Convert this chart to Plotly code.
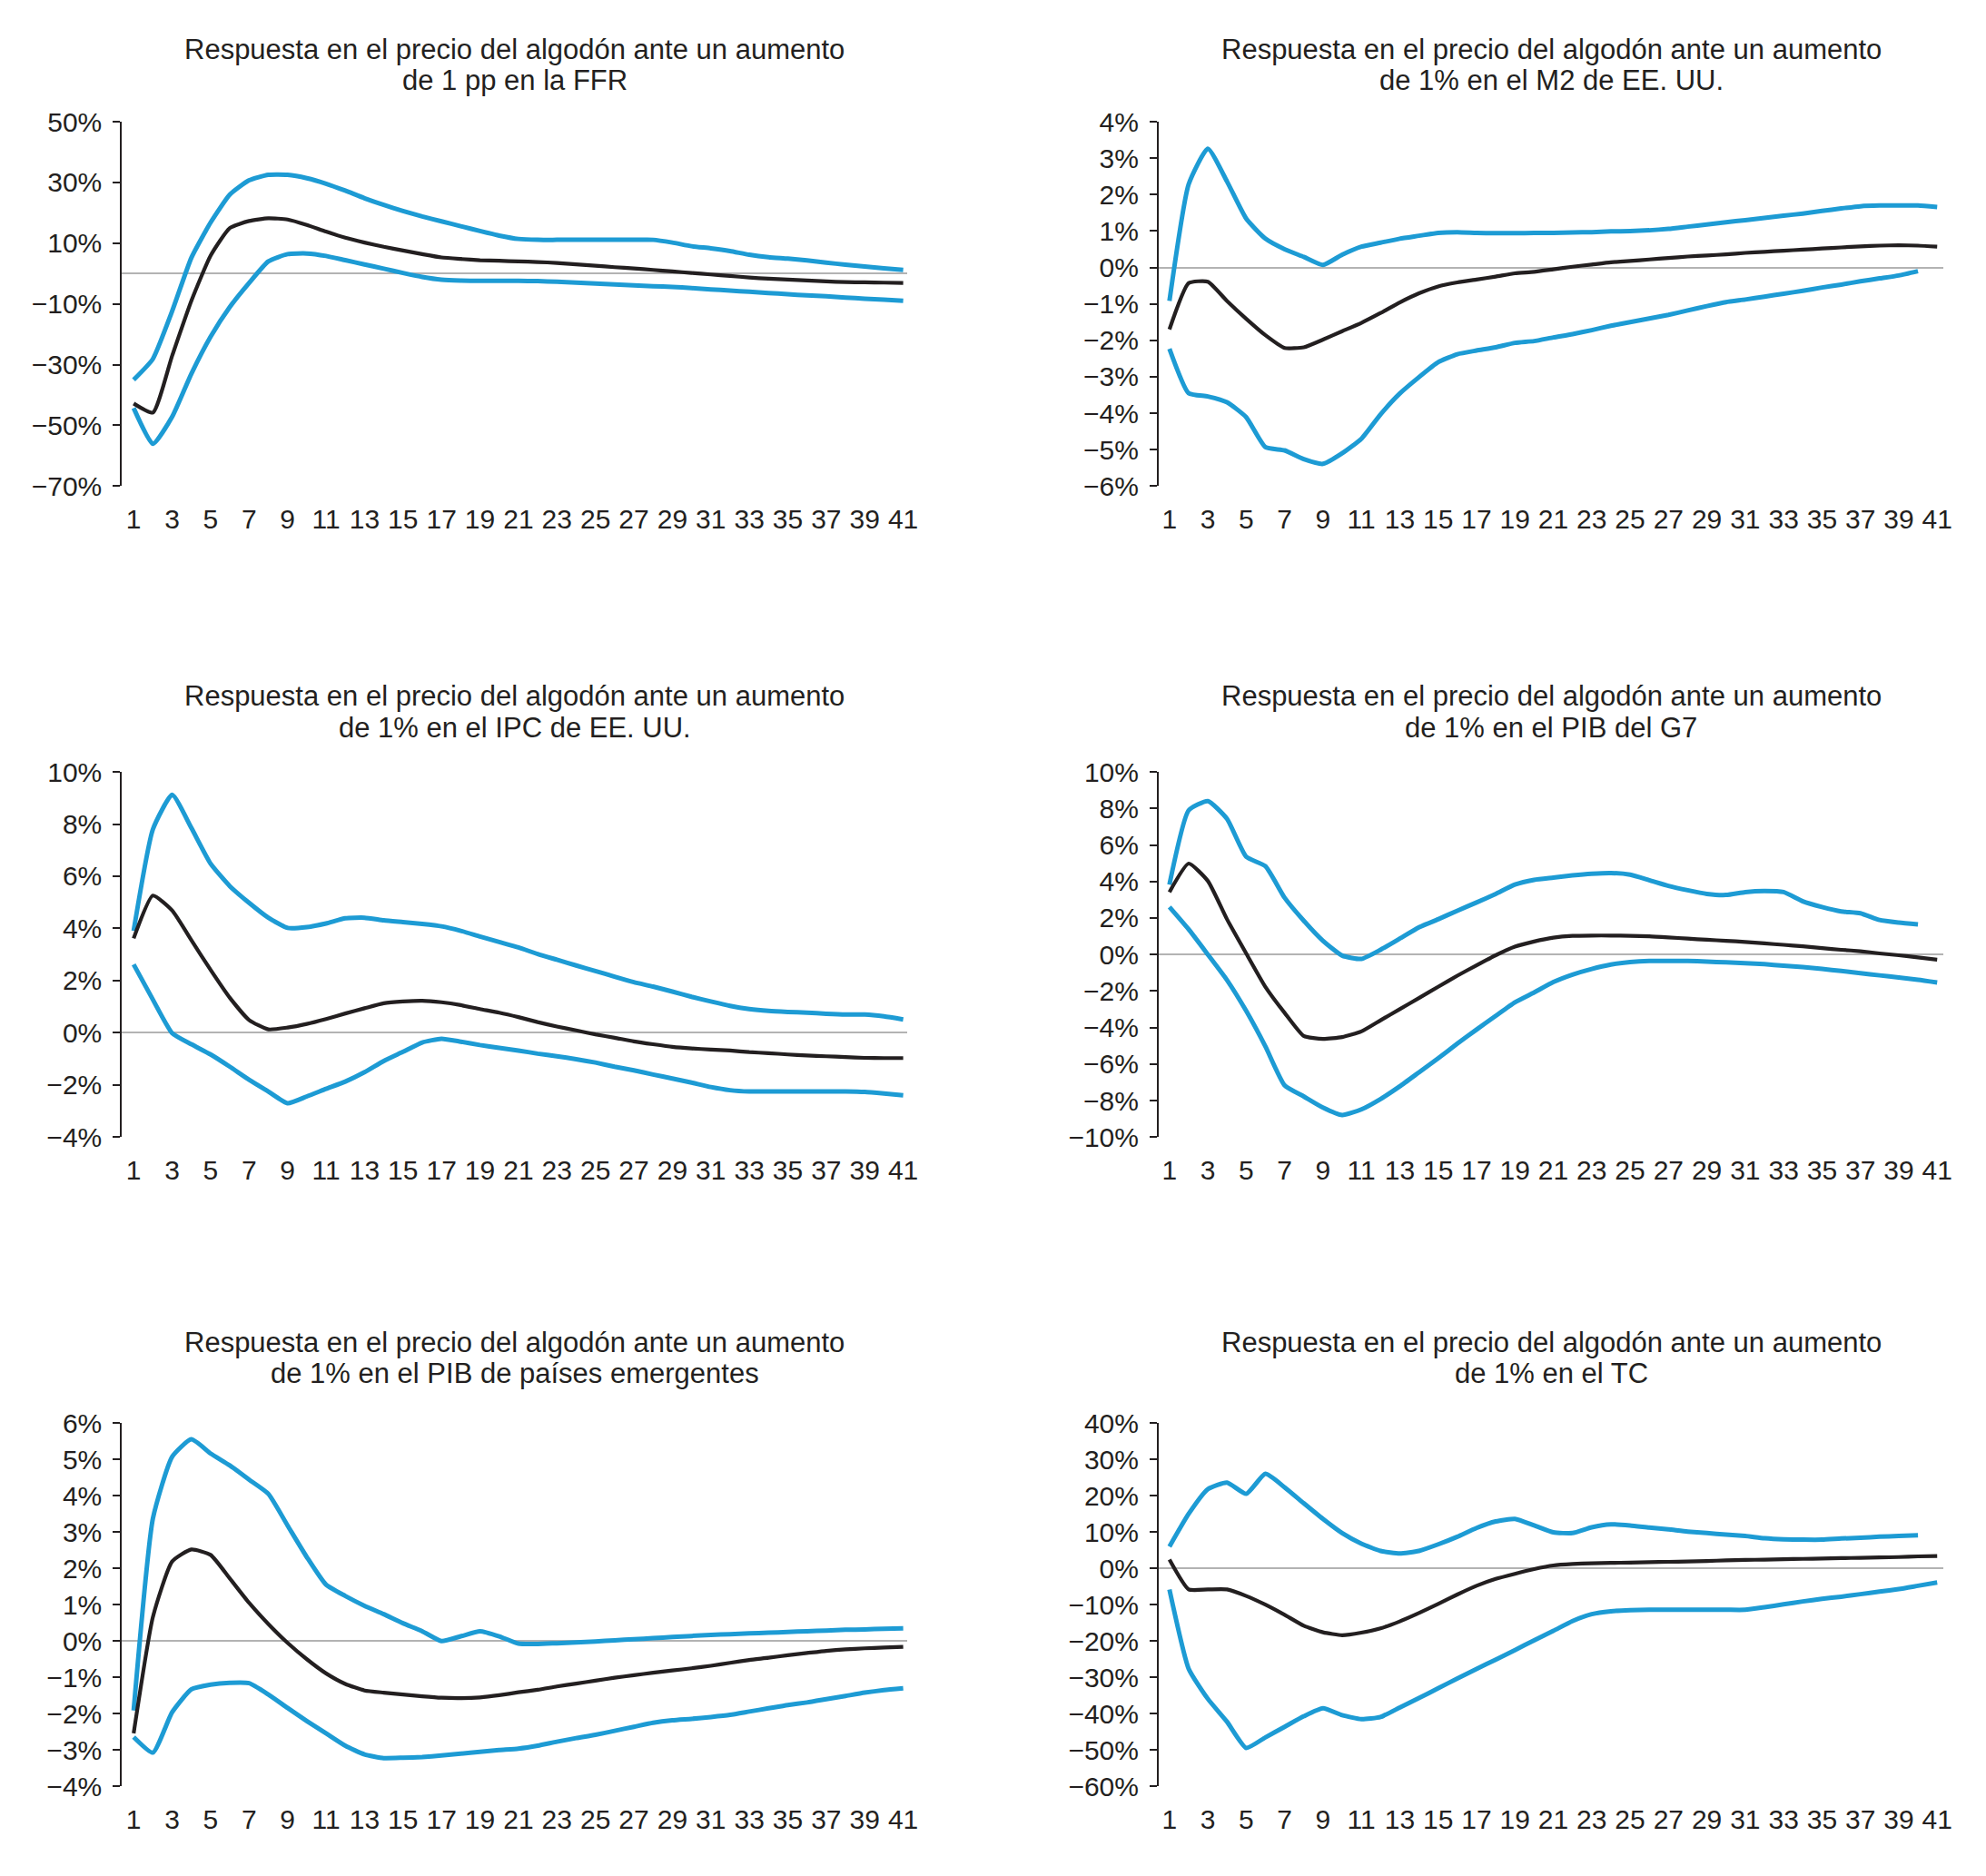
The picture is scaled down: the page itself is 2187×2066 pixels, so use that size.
import plotly.graph_objects as go

periods = list(range(1, 42))
tick_vals = list(range(1, 42, 2))
tick_text = [str(v) for v in tick_vals]

# 1) FFR
ffr_sup = [-35.0, -28.1, -12.4, 5.2, 16.8, 26.0, 30.7, 32.5, 32.5, 31.4, 29.6, 27.3,
           24.8, 22.6, 20.6, 18.8, 17.2, 15.6, 14.0, 12.5, 11.4, 11.1, 11.1, 11.1, 11.1,
           11.1, 11.1, 11.1, 10.2, 9.0, 8.3, 7.4, 6.2, 5.4, 4.9, 4.3, 3.6, 2.9, 2.3, 1.7, 1.2]
ffr_irf = [-42.8, -45.8, -27.1, -9.0, 5.9, 15.0, 17.3, 18.2, 17.8, 16.0, 13.8, 11.8,
           10.2, 8.8, 7.6, 6.4, 5.3, 4.8, 4.4, 4.2, 4.0, 3.8, 3.5, 3.0, 2.6, 2.1, 1.7, 1.2,
           0.7, 0.2, -0.3, -0.8, -1.3, -1.7, -2.0, -2.3, -2.6, -2.8, -2.9, -3.0, -3.1]
ffr_inf = [-44.3, -56.1, -47.2, -33.0, -20.8, -11.0, -3.1, 4.0, 6.4, 6.6, 5.8, 4.4,
           3.0, 1.6, 0.2, -1.1, -2.0, -2.3, -2.4, -2.4, -2.4, -2.5, -2.7, -3.0, -3.3, -3.6,
           -3.9, -4.2, -4.4, -4.8, -5.2, -5.6, -6.0, -6.4, -6.8, -7.2, -7.5, -7.9, -8.3, -8.6, -9.0]

# 2) M2
m2_sup = [-0.92, 2.28, 3.26, 2.36, 1.34, 0.79, 0.50, 0.29, 0.07, 0.35, 0.57, 0.68, 0.79,
          0.87, 0.95, 0.97, 0.95, 0.94, 0.94, 0.95, 0.95, 0.96, 0.97, 0.99, 1.00, 1.02, 1.06,
          1.12, 1.18, 1.24, 1.30, 1.36, 1.42, 1.48, 1.55, 1.62, 1.68, 1.70, 1.70, 1.70, 1.66]
m2_irf = [-1.70, -0.43, -0.39, -0.92, -1.41, -1.86, -2.21, -2.19, -1.98, -1.75, -1.52, -1.25,
          -0.96, -0.71, -0.52, -0.41, -0.33, -0.25, -0.16, -0.12, -0.05, 0.02, 0.08, 0.14, 0.18,
          0.22, 0.26, 0.30, 0.33, 0.36, 0.40, 0.43, 0.46, 0.49, 0.52, 0.55, 0.58, 0.60, 0.61, 0.60, 0.57]
m2_inf = [-2.23, -3.45, -3.54, -3.70, -4.11, -4.93, -5.02, -5.26, -5.39, -5.10, -4.70, -4.03,
          -3.46, -3.01, -2.60, -2.38, -2.28, -2.19, -2.07, -2.02, -1.92, -1.83, -1.72, -1.60, -1.50,
          -1.40, -1.30, -1.18, -1.06, -0.95, -0.88, -0.80, -0.72, -0.64, -0.55, -0.47, -0.38, -0.30,
          -0.22, -0.10, None]

# 3) IPC
ipc_sup = [3.91, 7.80, 9.12, 7.85, 6.48, 5.62, 4.98, 4.41, 4.02, 4.05, 4.19, 4.39, 4.41, 4.31,
           4.24, 4.17, 4.08, 3.91, 3.69, 3.48, 3.27, 3.02, 2.80, 2.58, 2.37, 2.15, 1.94, 1.77, 1.58,
           1.38, 1.20, 1.03, 0.91, 0.84, 0.80, 0.77, 0.73, 0.70, 0.70, 0.63, 0.51]
ipc_irf = [3.62, 5.26, 4.69, 3.55, 2.41, 1.34, 0.49, 0.13, 0.20, 0.34, 0.53, 0.74, 0.94, 1.13,
           1.20, 1.23, 1.17, 1.06, 0.91, 0.77, 0.60, 0.41, 0.24, 0.09, -0.06, -0.19, -0.33, -0.44,
           -0.54, -0.60, -0.64, -0.68, -0.74, -0.78, -0.83, -0.87, -0.90, -0.93, -0.96, -0.97, -0.97]
ipc_inf = [2.62, 1.27, -0.01, -0.44, -0.83, -1.30, -1.80, -2.25, -2.70, -2.44, -2.15, -1.87,
           -1.51, -1.08, -0.73, -0.37, -0.23, -0.34, -0.47, -0.58, -0.68, -0.80, -0.90, -1.01, -1.14,
           -1.30, -1.44, -1.60, -1.75, -1.91, -2.08, -2.20, -2.25, -2.25, -2.25, -2.25, -2.25, -2.25,
           -2.27, -2.33, -2.40]

# 4) PIB G7
g7_sup = [3.83, 7.89, 8.40, 7.43, 5.35, 4.84, 3.11, 1.85, 0.75, -0.06, -0.24, 0.26, 0.87, 1.49,
          1.93, 2.40, 2.85, 3.32, 3.83, 4.09, 4.21, 4.33, 4.42, 4.46, 4.37, 4.07, 3.76, 3.52, 3.32,
          3.26, 3.42, 3.48, 3.42, 2.91, 2.60, 2.36, 2.26, 1.89, 1.75, 1.65, None]
g7_irf = [3.42, 4.98, 4.03, 1.93, 0.06, -1.77, -3.19, -4.46, -4.62, -4.52, -4.21, -3.60, -2.99,
          -2.38, -1.77, -1.16, -0.59, -0.04, 0.43, 0.71, 0.92, 1.02, 1.04, 1.04, 1.02, 1.00, 0.94,
          0.87, 0.81, 0.75, 0.69, 0.61, 0.53, 0.45, 0.35, 0.26, 0.18, 0.06, -0.04, -0.16, -0.28]
g7_inf = [2.60, 1.38, 0.00, -1.40, -3.09, -5.03, -7.16, -7.77, -8.38, -8.79, -8.48, -7.91, -7.22,
          -6.45, -5.68, -4.88, -4.11, -3.36, -2.62, -2.08, -1.51, -1.10, -0.79, -0.55, -0.41, -0.35,
          -0.35, -0.35, -0.39, -0.43, -0.47, -0.53, -0.61, -0.69, -0.79, -0.90, -1.02, -1.14, -1.26,
          -1.38, -1.53]

# 5) PIB emergentes
em_sup = [-1.91, 3.37, 5.07, 5.55, 5.16, 4.83, 4.44, 4.05, 3.18, 2.31, 1.55, 1.24, 0.97, 0.74,
          0.49, 0.27, 0.00, 0.13, 0.27, 0.13, -0.07, -0.08, -0.06, -0.04, -0.01, 0.02, 0.05, 0.08,
          0.11, 0.14, 0.17, 0.19, 0.21, 0.23, 0.25, 0.27, 0.29, 0.31, 0.32, 0.34, 0.35]
em_irf = [-2.54, 0.66, 2.19, 2.52, 2.37, 1.72, 1.05, 0.47, -0.05, -0.50, -0.89, -1.18, -1.36,
          -1.42, -1.47, -1.52, -1.56, -1.57, -1.55, -1.49, -1.41, -1.34, -1.25, -1.17, -1.09, -1.01,
          -0.94, -0.87, -0.81, -0.75, -0.68, -0.60, -0.52, -0.46, -0.39, -0.33, -0.27, -0.23, -0.20,
          -0.18, -0.16]
em_inf = [-2.64, -3.07, -1.96, -1.33, -1.20, -1.15, -1.16, -1.47, -1.84, -2.20, -2.54, -2.88,
          -3.12, -3.22, -3.21, -3.19, -3.15, -3.10, -3.05, -3.00, -2.96, -2.88, -2.77, -2.67, -2.58,
          -2.47, -2.36, -2.25, -2.18, -2.14, -2.09, -2.03, -1.94, -1.85, -1.76, -1.69, -1.60, -1.51,
          -1.42, -1.35, -1.30]

# 6) TC
tc_sup = [6.0, 15.0, 21.8, 23.6, 20.5, 26.0, 22.3, 17.9, 13.6, 9.7, 6.8, 4.8, 4.1, 4.8, 6.6, 8.7,
          11.1, 12.9, 13.6, 11.8, 9.9, 9.7, 11.3, 12.1, 11.8, 11.2, 10.7, 10.1, 9.7, 9.3, 8.9, 8.3,
          8.0, 7.9, 7.9, 8.2, 8.4, 8.7, 8.9, 9.1, None]
tc_irf = [2.4, -5.8, -5.8, -5.8, -7.6, -10.0, -12.8, -15.8, -17.6, -18.4, -17.7, -16.5, -14.6,
          -12.3, -9.8, -7.2, -4.8, -2.9, -1.5, -0.2, 0.8, 1.2, 1.4, 1.5, 1.6, 1.7, 1.8, 1.9, 2.0,
          2.2, 2.3, 2.4, 2.5, 2.6, 2.7, 2.8, 2.9, 3.0, 3.1, 3.3, 3.4]
tc_inf = [-5.8, -27.6, -35.9, -42.2, -49.4, -46.5, -43.6, -40.7, -38.5, -40.4, -41.5, -40.9,
          -38.3, -35.7, -33.0, -30.3, -27.7, -25.1, -22.5, -19.8, -17.2, -14.5, -12.6, -11.8, -11.5,
          -11.4, -11.4, -11.4, -11.4, -11.4, -11.4, -10.7, -9.9, -9.1, -8.4, -7.8, -7.1, -6.4, -5.7,
          -4.8, -3.9]

titles_line1 = ["Respuesta en el precio del algodón ante un aumento"] * 6
titles_line2 = ["de 1 pp en la FFR", "de 1% en el M2 de EE. UU.",
                "de 1% en el IPC de EE. UU.", "de 1% en el PIB del G7",
                "de 1% en el PIB de países emergentes", "de 1% en el TC"]
y_ranges = [(-70, 50, 20), (-6, 4, 1), (-4, 10, 2), (-10, 10, 2), (-4, 6, 1), (-60, 40, 10)]

series = [(ffr_sup, ffr_irf, ffr_inf), (m2_sup, m2_irf, m2_inf), (ipc_sup, ipc_irf, ipc_inf),
          (g7_sup, g7_irf, g7_inf), (em_sup, em_irf, em_inf), (tc_sup, tc_irf, tc_inf)]

W, H = 2187, 2066
BLUE = "#1d9bd4"
BLACK = "#231f20"
TXT = "#231f20"
FONT = "Liberation Sans, Arial, Helvetica, sans-serif"

col_px = [(135, 1005), (1283, 2152)]
row_px = [(119, 527), (847, 1256), (1576, 1983)]
x_ranges = [(0.39, 41.23), (0.44, 41.33)]
title_px = [(38.5, 73), (762.5, 798), (1485.5, 1521)]

fig = go.Figure()
layout = dict(width=W, height=H, margin=dict(l=0, r=0, t=0, b=0),
              paper_bgcolor="white", plot_bgcolor="white", showlegend=False,
              font=dict(family=FONT, color=TXT, size=30))
annotations = []

for i in range(6):
    r, c = divmod(i, 2)
    n = i + 1
    xa = "x" if n == 1 else f"x{n}"
    ya = "y" if n == 1 else f"y{n}"
    sup, irf, inf = series[i]
    for vals, color, w in [(sup, BLUE, 5), (inf, BLUE, 5), (irf, BLACK, 4.2)]:
        fig.add_trace(go.Scatter(x=periods, y=vals, mode="lines",
                                 line=dict(color=color, width=w, shape="spline", smoothing=0.5),
                                 xaxis=xa, yaxis=ya, hoverinfo="skip"))
    x0, x1 = col_px[c]
    y0, y1 = row_px[r]
    lo, hi, dt = y_ranges[i]
    layout[f"xaxis{'' if n == 1 else n}"] = dict(
        domain=[x0 / W, x1 / W], anchor=ya, range=list(x_ranges[c]),
        tickmode="array", tickvals=tick_vals, ticktext=tick_text,
        showline=False, showgrid=False, zeroline=False,
        ticks="outside", ticklen=10, tickcolor="rgba(0,0,0,0)",
        tickfont=dict(family=FONT, size=30, color=TXT), fixedrange=True)
    layout[f"yaxis{'' if n == 1 else n}"] = dict(
        domain=[1 - y1 / H, 1 - y0 / H], anchor=xa, range=[lo, hi],
        tickmode="linear", tick0=lo, dtick=dt, ticksuffix="%",
        showline=True, linecolor=BLACK, linewidth=2,
        ticks="outside", ticklen=8, tickwidth=2, tickcolor=BLACK,
        ticklabelstandoff=6,
        showgrid=False, zeroline=True, zerolinecolor="#b3b3b3", zerolinewidth=2,
        tickfont=dict(family=FONT, size=30, color=TXT), fixedrange=True)
    xc = (x0 + x1) / 2 / W
    t1, t2 = title_px[r]
    annotations.append(dict(text=titles_line1[i], x=xc, y=1 - t1 / H, xref="paper", yref="paper",
                            xanchor="center", yanchor="middle", showarrow=False,
                            font=dict(family=FONT, size=31, color=TXT)))
    annotations.append(dict(text=titles_line2[i], x=xc, y=1 - t2 / H, xref="paper", yref="paper",
                            xanchor="center", yanchor="middle", showarrow=False,
                            font=dict(family=FONT, size=31, color=TXT)))

layout["annotations"] = annotations
fig.update_layout(**layout)
fig.write_html("out.html", config={"displayModeBar": False},
               post_script="document.body.style.margin='0';")
